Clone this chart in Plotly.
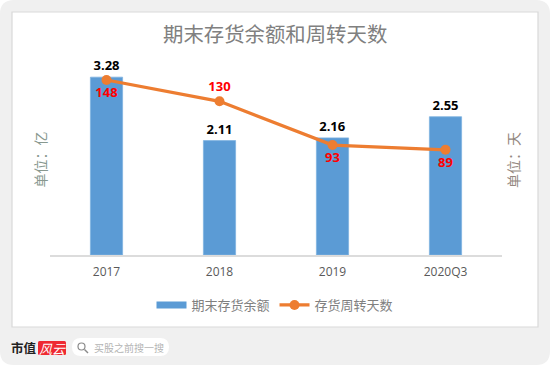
import plotly.graph_objects as go

categories = ["2017", "2018", "2019", "2020Q3"]
inventory = [3.28, 2.11, 2.16, 2.55]
inventory_labels = ["3.28", "2.11", "2.16", "2.55"]
turnover_days = [148, 130, 93, 89]
turnover_labels = ["148", "130", "93", "89"]
turnover_label_pos = ["bottom center", "top center", "bottom center", "bottom center"]

W, H = 550, 365
LATIN = "Open Sans, Noto Sans, sans-serif"
CJK = "Noto Sans CJK SC, sans-serif"

def px(x):
    return x / W

def py(y):
    return 1 - y / H

def rrect(x0, y0, x1, y1, r):
    a, b, c, d = px(x0), px(x1), py(y0), py(y1)
    rx, ry = r / W, r / H
    return (f"M{a+rx},{c} L{b-rx},{c} Q{b},{c} {b},{c-ry} L{b},{d+ry} Q{b},{d} {b-rx},{d} "
            f"L{a+rx},{d} Q{a},{d} {a},{d+ry} L{a},{c-ry} Q{a},{c} {a+rx},{c} Z")

fig = go.Figure()
fig.add_trace(go.Bar(
    x=categories, y=inventory, name="期末存货余额", yaxis="y", showlegend=False,
    marker=dict(color="#5B9BD5", line=dict(color="#7FB2E0", width=0.8)),
    text=inventory_labels, textposition="outside", cliponaxis=False,
    textfont=dict(family=LATIN, size=13, color="#000000", weight="bold"),
))
# Legend key only: a thick line gives the wide blue swatch of the reference.
fig.add_trace(go.Scatter(
    x=[None], y=[None], name="期末存货余额", yaxis="y", mode="lines",
    line=dict(color="#5B9BD5", width=7),
))
fig.add_trace(go.Scatter(
    x=categories, y=turnover_days, name="存货周转天数", yaxis="y2",
    mode="lines+markers+text",
    line=dict(color="#ED7D31", width=3.2),
    marker=dict(color="#ED7D31", size=10),
    text=turnover_labels, textposition=turnover_label_pos, cliponaxis=False,
    textfont=dict(family=LATIN, size=13, color="#FF0000", weight="bold"),
))

shapes = [
    dict(type="path", path=rrect(0, 0, 550, 365, 14), fillcolor="#F0F0F0", line_width=0, layer="below", xref="paper", yref="paper"),
    dict(type="rect", x0=px(12), x1=px(538), y0=py(12), y1=py(327), fillcolor="#FFFFFF",
         line=dict(color="#D9D9D9", width=1.2), layer="below", xref="paper", yref="paper"),
    dict(type="path", path=rrect(72, 338, 169, 356, 9), fillcolor="#FFFFFF", line_width=0, layer="below", xref="paper", yref="paper"),
    dict(type="path", path=rrect(38, 341, 66, 355, 1.5), fillcolor="#EE2A32", line_width=0, layer="below", xref="paper", yref="paper"),
    dict(type="circle", x0=px(78), x1=px(85), y0=py(343), y1=py(350), line=dict(color="#8A8A8A", width=1.2), xref="paper", yref="paper"),
    dict(type="line", x0=px(84.5), x1=px(88), y0=py(349.5), y1=py(353), line=dict(color="#8A8A8A", width=1.4), xref="paper", yref="paper"),
]

def note(x, y, text, size, color, family=CJK, angle=0, anchor="center", weight="normal", italic=False):
    return dict(x=px(x), y=py(y), xref="paper", yref="paper", text=text, showarrow=False,
                textangle=angle, xanchor=anchor, yanchor="middle",
                font=dict(family=family, size=size, color=color, weight=weight,
                          style="italic" if italic else "normal"))

annotations = [
    note(275, 33, "期末存货余额和周转天数", 20.4, "#808080"),
    note(39.5, 160, "单位：亿", 14, "#88988F", angle=-90),
    note(513, 160, "单位：天", 14, "#94887F", angle=-90),
    note(23.5, 347, "市值", 12.5, "#222222", weight="bold"),
    note(52, 348, "风云", 13, "#FFFFFF", italic=True),
    note(92, 347, "买股之前搜一搜", 10, "#B4B4B4", anchor="left"),
]

fig.update_layout(
    width=W, height=H, autosize=False,
    margin=dict(l=0, r=0, t=0, b=0),
    paper_bgcolor="#FFFFFF", plot_bgcolor="rgba(0,0,0,0)",
    barmode="group", bargap=0.715,
    shapes=shapes, annotations=annotations,
    showlegend=True,
    legend=dict(orientation="h", x=0.5, xanchor="center", y=py(305), yanchor="middle",
                font=dict(family=CJK, size=13, color="#808080"),
                bgcolor="rgba(0,0,0,0)", itemwidth=30, tracegroupgap=0),
    xaxis=dict(domain=[px(50), px(502)], anchor="y", type="category",
               showline=True, linecolor="#DCDCDC", linewidth=1.6,
               ticks="", showgrid=False, ticklabelstandoff=5,
               tickfont=dict(family=LATIN, size=12, color="#595959")),
    yaxis=dict(domain=[py(255), py(54.4)], range=[0, 3.7], visible=False, showgrid=False),
    yaxis2=dict(domain=[py(255), py(54.4)], range=[0, 169.7], overlaying="y", side="right",
                visible=False, showgrid=False),
)

fig.write_html("out.html", config={"displayModeBar": False},
               post_script="document.body.style.margin='0';document.body.style.overflow='hidden';")
